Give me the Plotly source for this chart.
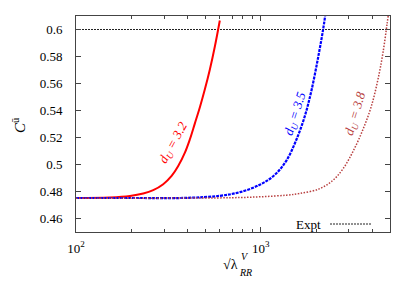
import plotly.graph_objects as go

# Data
lam_32 = [100, 152.7, 195.9, 231.1, 261.7, 296.4, 329.1, 357.3, 388.3, 413.3, 439.8, 468.0, 498, 530, 564, 600]
C_32 = [0.4752, 0.4756, 0.4767, 0.4785, 0.481, 0.4854, 0.4915, 0.4989, 0.5088, 0.5187, 0.5305, 0.5424,
        0.5557, 0.5704, 0.5874, 0.6067]

lam_35 = [100, 200, 400, 600, 770, 988, 1191, 1378, 1561, 1729, 1880, 2042, 2173, 2228]
C_35 = [0.4752, 0.4752, 0.4753, 0.4768, 0.4795, 0.485, 0.4924, 0.5031, 0.5187, 0.5357, 0.5549, 0.5793,
        0.6, 0.6099]

lam_38 = [100, 300, 700, 1000, 1377, 1625, 2084, 2461, 2788, 3157, 3575, 3966, 4305, 4581, 4817, 4899]
C_38 = [0.4750, 0.4751, 0.4754, 0.4761, 0.4773, 0.4785, 0.4821, 0.4884, 0.4969, 0.5098, 0.5261, 0.5433,
        0.5631, 0.5828, 0.6037, 0.611]

expt_lam = [100, 5000]
expt_C = [0.6, 0.6]

y_ticks = [0.46, 0.48, 0.5, 0.52, 0.54, 0.56, 0.58, 0.6]
y_tick_labels = ["0.46", "0.48", "0.5", "0.52", "0.54", "0.56", "0.58", "0.6"]
x_ticks = [100, 1000]
x_tick_labels = ["10<sup>2</sup>", "10<sup>3</sup>"]
x_minor = [200, 300, 400, 500, 600, 700, 800, 900, 2000, 3000, 4000, 5000]

FONT = "Liberation Serif, Times New Roman, serif"

fig = go.Figure()
fig.add_trace(go.Scatter(x=expt_lam, y=expt_C, mode="lines",
                         line=dict(color="#222222", width=1, dash="2px,1px"),
                         showlegend=False))
fig.add_trace(go.Scatter(x=lam_32, y=C_32, mode="lines", line_shape="spline",
                         line=dict(color="#ff0000", width=2), showlegend=False))
fig.add_trace(go.Scatter(x=lam_35, y=C_35, mode="lines", line_shape="spline",
                         line=dict(color="#0000ff", width=2.2, dash="3px,1px"),
                         showlegend=False))
fig.add_trace(go.Scatter(x=lam_38, y=C_38, mode="lines", line_shape="spline",
                         line=dict(color="#b84040", width=1.5, dash="1.5px,1.5px"),
                         showlegend=False))

axis_common = dict(showline=True, linecolor="#444444", linewidth=1, mirror="allticks",
                   ticks="inside", tickcolor="#444444", ticklen=5, showgrid=False,
                   zeroline=False, tickfont=dict(family=FONT, size=13, color="black"))

fig.update_xaxes(type="log", range=[2, 3.699], tickvals=x_ticks, ticktext=x_tick_labels,
                 minor=dict(tickvals=x_minor, ticks="inside", ticklen=3, tickcolor="#444444"),
                 ticklabelstandoff=4, **axis_common)
fig.update_yaxes(range=[0.45, 0.61], tickvals=y_ticks, ticktext=y_tick_labels,
                 ticklabelstandoff=10, **axis_common)

PL, PT, PW, PH = 76, 16, 314, 216  # plot area in page pixels


def px(x):
    return (x - PL) / PW


def py(y):
    return (PT + PH - y) / PH


ann = [
    dict(text="<i>d<sub>U</sub> = 3.2</i>", x=px(173), y=py(143), xref="paper", yref="paper",
         xanchor="center", yanchor="middle",
         showarrow=False, textangle=-61, font=dict(family=FONT, size=13, color="#ff0000")),
    dict(text="<i>d<sub>U</sub> = 3.5</i>", x=px(295), y=py(114), xref="paper", yref="paper",
         xanchor="center", yanchor="middle",
         showarrow=False, textangle=-72, font=dict(family=FONT, size=13, color="#0000ff")),
    dict(text="<i>d<sub>U</sub> = 3.8</i>", x=px(355), y=py(114), xref="paper", yref="paper",
         xanchor="center", yanchor="middle",
         showarrow=False, textangle=-73, font=dict(family=FONT, size=13, color="#b84040")),
    # legend
    dict(text="Expt", x=px(323), y=py(224), xref="paper", yref="paper",
         xanchor="right", yanchor="middle", showarrow=False,
         font=dict(family=FONT, size=13, color="black")),
    # y title
    dict(text="<i>C</i><sup>ū</sup>", x=px(19), y=py(125), xref="paper", yref="paper",
         xanchor="center", yanchor="middle", showarrow=False, textangle=-90,
         font=dict(family=FONT, size=15, color="black")),
    # x title with stacked super/subscript
    dict(text="√λ", x=px(230), y=py(264), xref="paper", yref="paper",
         xanchor="center", yanchor="middle",
         showarrow=False, font=dict(family=FONT, size=14, color="black")),
    dict(text="<i>V</i>", x=px(239), y=py(256), xref="paper", yref="paper",
         xanchor="left", yanchor="middle", showarrow=False,
         font=dict(family=FONT, size=10, color="black")),
    dict(text="<i>RR</i>", x=px(237), y=py(272), xref="paper", yref="paper",
         xanchor="left", yanchor="middle", showarrow=False,
         font=dict(family=FONT, size=10, color="black")),
]

# page body has an 8px margin, so the figure starts at (8, 8)
fig.update_layout(
    width=407, height=283,
    margin=dict(l=PL - 8, r=415 - (PL + PW), t=PT - 8, b=291 - (PT + PH)),
    paper_bgcolor="white", plot_bgcolor="white",
    annotations=ann,
    shapes=[dict(type="line", xref="paper", yref="paper",
                 x0=px(330), x1=px(372), y0=py(224), y1=py(224),
                 line=dict(color="#222222", width=1, dash="2px,1px"))],
)

fig.write_html("out.html")
